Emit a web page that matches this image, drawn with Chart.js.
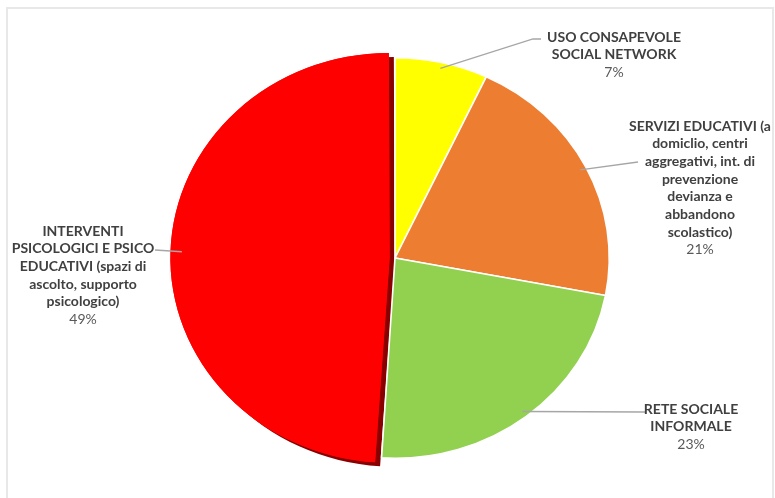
<!DOCTYPE html>
<html>
<head>
<meta charset="utf-8">
<script src="https://cdn.jsdelivr.net/npm/chart.js@4/dist/chart.umd.min.js"></script>
<style>
html, body { margin: 0; padding: 0; background: #fff; }
#wrap { position: relative; width: 775px; height: 498px; overflow: hidden; }
#frame { position: absolute; left: 6px; top: 7px; width: 768px; height: 520px; border: 2px solid #e8e8e8; box-sizing: border-box; }
canvas { position: absolute; left: 0; top: 0; }
</style>
</head>
<body>
<div id="wrap">
  <div id="frame"></div>
  <canvas id="c" width="775" height="498"></canvas>
</div>
<script>
// categories (wrapped as in the original), values in percent
const categories = [
  ['USO CONSAPEVOLE', 'SOCIAL NETWORK'],
  ['SERVIZI EDUCATIVI (a', 'domiclio, centri', 'aggregativi, int. di', 'prevenzione', 'devianza e', 'abbandono', 'scolastico)'],
  ['RETE SOCIALE', 'INFORMALE'],
  ['INTERVENTI', 'PSICOLOGICI E PSICO', 'EDUCATIVI (spazi di', 'ascolto, supporto', 'psicologico)']
];
const values = [7, 21, 23, 49];
const percentLabels = ['7%', '21%', '23%', '49%'];
const colors = ['#ffff00', '#ed7d31', '#92d050', '#ff0000'];

// label placement (text centre x, first line y, leader line end points)
const labelLayout = [
  { x: 614, y: 37, pts: [[533, 39], [541, 39]] },
  { x: 700, y: 126, pts: [[638, 162]] },
  { x: 691, y: 409, pts: [[645, 412]] },
  { x: 83, y: 231, pts: [[155, 250]] }
];
const SX = 1.07;      // the original pie is a bit wider than tall
const LINE_H = 17.7;

const ellipse = {
  id: 'ellipse',
  beforeDatasetsDraw(chart) {
    const meta = chart.getDatasetMeta(0);
    const a = meta.data[0];
    const ctx = chart.ctx;
    ctx.save();
    ctx.translate(a.x, a.y);
    ctx.scale(SX, 1);
    ctx.translate(-a.x, -a.y);
    // dark edge under the pulled-out red slice
    ctx.save();
    ctx.shadowColor = '#8a0000';
    ctx.shadowOffsetX = 5;
    ctx.shadowOffsetY = 4;
    ctx.shadowBlur = 0;
    meta.data[3].draw(ctx);
    ctx.restore();
  },
  afterDatasetsDraw(chart) {
    chart.ctx.restore();
  }
};

const pieLabels = {
  id: 'pieLabels',
  afterDraw(chart) {
    const ctx = chart.ctx;
    const meta = chart.getDatasetMeta(0);
    ctx.save();
    meta.data.forEach((a, i) => {
      const L = labelLayout[i];
      const mid = (a.startAngle + a.endAngle) / 2;
      const off = (a.options.offset || 0) / 4;
      const r = a.outerRadius * 0.97 + off;
      const px = a.x + Math.cos(mid) * r * SX;
      const py = a.y + Math.sin(mid) * r;
      ctx.strokeStyle = '#a6a6a6';
      ctx.lineWidth = 1.3;
      ctx.beginPath();
      ctx.moveTo(px, py);
      L.pts.forEach(p => ctx.lineTo(p[0], p[1]));
      ctx.stroke();

      ctx.textAlign = 'center';
      ctx.textBaseline = 'middle';
      const lines = chart.data.labels[i];
      ctx.fillStyle = '#404040';
      ctx.font = 'bold 14px Lato, "Open Sans", sans-serif';
      lines.forEach((t, k) => ctx.fillText(t, L.x, L.y + k * LINE_H));
      ctx.fillStyle = '#595959';
      ctx.font = '14px Lato, "Open Sans", sans-serif';
      ctx.fillText(percentLabels[i], L.x, L.y + lines.length * LINE_H);
    });
    ctx.restore();
  }
};

new Chart(document.getElementById('c'), {
  type: 'pie',
  data: {
    labels: categories,
    datasets: [{
      data: values,
      backgroundColor: colors,
      borderColor: '#ffffff',
      borderWidth: [1.5, 1.5, 1.5, 0],
      offset: [0, 0, 0, 20],
      clip: false
    }]
  },
  options: {
    responsive: false,
    animation: false,
    events: [],
    layout: { padding: { left: 184, right: 169, top: 47, bottom: 29 } },
    plugins: { legend: { display: false }, tooltip: { enabled: false } }
  },
  plugins: [ellipse, pieLabels]
});
</script>
</body>
</html>
